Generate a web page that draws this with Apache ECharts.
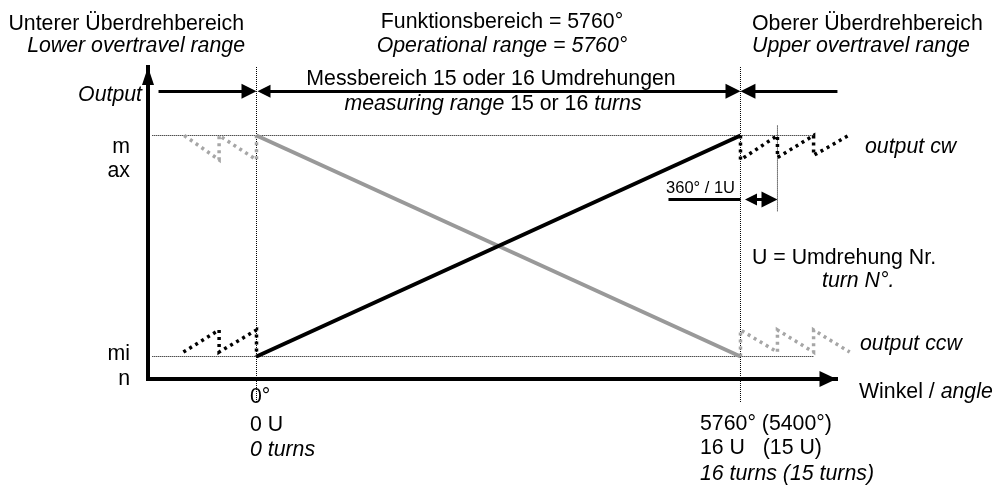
<!DOCTYPE html>
<html>
<head>
<meta charset="utf-8">
<script src="https://cdn.jsdelivr.net/npm/echarts@6/dist/echarts.min.js"></script>
<style>
html,body{margin:0;padding:0;background:#fff;}
#chart{width:993px;height:485px;}
</style>
</head>
<body>
<div id="chart"></div>
<script>
// ---- schematic data (x: angle in degrees, y: output in % of span) ----
const angleRange = [-1291.3, 6896.8];
const outputRange = [-10.18, 131];
const cwLine = [[0, 0], [5760, 100]];
const ccwLine = [[0, 100], [5760, 0]];
const cwLowerOvertravel = [[-870, 2], [-445, 12], [-445, 2], [0, 12], [0, 0]];
const cwUpperOvertravel = [[5760, 100], [5760, 89], [6200, 100], [6200, 90], [6630, 100], [6630, 91], [7045, 100]];
const ccwUpperOvertravel = [[-860, 100], [-445, 89], [-445, 100], [0, 89], [0, 100]];
const ccwLowerOvertravel = [[5760, 0], [5760, 12], [6200, 2], [6200, 12], [6630, 2], [6630, 12], [7060, 2]];
// reference (thin dotted) lines
const maxRef = [[-1240, 100], [6630, 100]];
const minRef = [[-1240, 0], [6630, 0]];
const zeroRef = [[0, 131], [0, -21]];
const endRef = [[5760, 131], [5760, -21]];
const turnRef = [[6200, 104.5], [6200, 65.5]];
// dimension arrows
const lowerRangeArrow = [[-1166, 120], [-89, 120]];
const measureRangeArrow = [[89, 120], [5671, 120]];
const upperRangeArrow = [[6914, 120], [5849, 120]];
const turnLeader = [[4903, 71], [5760, 71]];
const turnArrow = [[5885, 71], [6105, 71]];

const FF = '"Liberation Sans", Arial, sans-serif';
const FS = 21.3;

function txt(x, y, text, align, opts) {
  opts = opts || {};
  const size = opts.size || FS;
  return {
    type: 'text', x: x, y: y, z: 100,
    style: {
      text: text,
      fontFamily: FF,
      fontSize: size,
      fontStyle: opts.italic ? 'italic' : 'normal',
      fill: '#000',
      align: align,
      verticalAlign: 'middle',
      rich: {
        i: { fontFamily: FF, fontSize: size, fontStyle: 'italic', fill: '#000' }
      }
    }
  };
}

const labels = [
  txt(244, 24, 'Unterer Überdrehbereich', 'right'),
  txt(245, 46, 'Lower overtravel range', 'right', {italic: true}),
  txt(502, 22, 'Funktionsbereich = 5760°', 'center'),
  txt(502, 46, 'Operational range = 5760°', 'center', {italic: true}),
  txt(752, 24, 'Oberer Überdrehbereich', 'left'),
  txt(752, 46, 'Upper overtravel range', 'left', {italic: true}),
  txt(491, 79, 'Messbereich 15 oder 16 Umdrehungen', 'center'),
  txt(493, 104, '{i|measuring range} 15 or 16 {i|turns}', 'center'),
  txt(142, 95, 'Output', 'right', {italic: true}),
  txt(130, 147, 'm', 'right'),
  txt(130, 171, 'ax', 'right'),
  txt(130, 354, 'mi', 'right'),
  txt(130, 379, 'n', 'right'),
  txt(865, 147, 'output cw', 'left', {italic: true}),
  txt(860, 344, 'output ccw', 'left', {italic: true}),
  txt(859, 392, 'Winkel / {i|angle}', 'left'),
  txt(735, 188, '360° / 1U', 'right', {size: 16.5}),
  txt(752, 258, 'U = Umdrehung Nr.', 'left'),
  txt(822, 281, 'turn N°.', 'left', {italic: true}),
  txt(250, 397, '0°', 'left'),
  txt(250, 425, '0 U', 'left'),
  txt(250, 450, '0 turns', 'left', {italic: true}),
  txt(700, 424, '5760° (5400°)', 'left'),
  txt(700, 448, '16 U   (15 U)', 'left'),
  txt(700, 474, '16 turns (15 turns)', 'left', {italic: true})
];

function poly(name, coords, color, width, dash, z) {
  return {
    name: name, type: 'lines', coordinateSystem: 'cartesian2d', polyline: true,
    clip: false, silent: true, z: z, symbol: 'none',
    lineStyle: { color: color, width: width, type: dash, opacity: 1, curveness: 0, cap: 'butt' },
    data: [{ coords: coords }]
  };
}
function arrow(name, coords, symbols, size, width) {
  return {
    name: name, type: 'lines', coordinateSystem: 'cartesian2d', clip: false, silent: true, z: 6,
    symbol: symbols, symbolSize: size,
    lineStyle: { color: '#000', width: width, opacity: 1, curveness: 0 },
    itemStyle: { color: '#000' },
    data: [{ coords: coords }]
  };
}

const chart = echarts.init(document.getElementById('chart'), null, {renderer: 'canvas'});
chart.setOption({
  animation: false,
  backgroundColor: '#fff',
  grid: { left: 148, top: 67, width: 688, height: 312, containLabel: false },
  xAxis: {
    type: 'value', min: angleRange[0], max: angleRange[1],
    axisLabel: {show: false}, axisTick: {show: false}, splitLine: {show: false},
    axisLine: { show: true, onZero: false, symbol: ['none', 'triangle'], symbolSize: [16, 17], symbolOffset: [0, -8],
      lineStyle: { color: '#000', width: 4, cap: 'square' } }
  },
  yAxis: {
    type: 'value', min: outputRange[0], max: outputRange[1],
    axisLabel: {show: false}, axisTick: {show: false}, splitLine: {show: false},
    axisLine: { show: true, onZero: false, symbol: ['none', 'triangle'], symbolSize: [12, 18], symbolOffset: [0, -9],
      lineStyle: { color: '#000', width: 4, cap: 'square' } }
  },
  series: [
    poly('max', maxRef, '#000', 1, [1, 1], 1),
    poly('min', minRef, '#000', 1, [1, 1], 1),
    poly('zero', zeroRef, '#000', 1, [1, 1], 1),
    poly('end', endRef, '#000', 1, [1, 1], 1),
    poly('turn', turnRef, '#000', 1, [1, 1], 1),
    poly('cw lower overtravel', cwLowerOvertravel, '#000', 3.5, [3, 4], 3),
    poly('cw upper overtravel', cwUpperOvertravel, '#000', 3.5, [3, 4], 3),
    poly('ccw upper overtravel', ccwUpperOvertravel, '#a6a6a6', 3.5, [3, 4], 3),
    poly('ccw lower overtravel', ccwLowerOvertravel, '#a6a6a6', 3.5, [3, 4], 3),
    { name: 'output ccw', type: 'line', data: ccwLine, showSymbol: false, symbol: 'none', clip: false, z: 4,
      lineStyle: { color: '#999999', width: 4 } },
    { name: 'output cw', type: 'line', data: cwLine, showSymbol: false, symbol: 'none', clip: false, z: 5,
      lineStyle: { color: '#000', width: 4 } },
    arrow('lower range', lowerRangeArrow, ['none', 'triangle'], [13, 15], 3),
    arrow('measuring range', measureRangeArrow, ['triangle', 'triangle'], [13, 15], 3),
    arrow('upper range', upperRangeArrow, ['none', 'triangle'], [13, 15], 3),
    arrow('turn leader', turnLeader, ['none', 'none'], 1, 3),
    arrow('turn', turnArrow, ['triangle', 'triangle'], [12, 16], 3)
  ],
  graphic: labels
});
</script>
</body>
</html>
